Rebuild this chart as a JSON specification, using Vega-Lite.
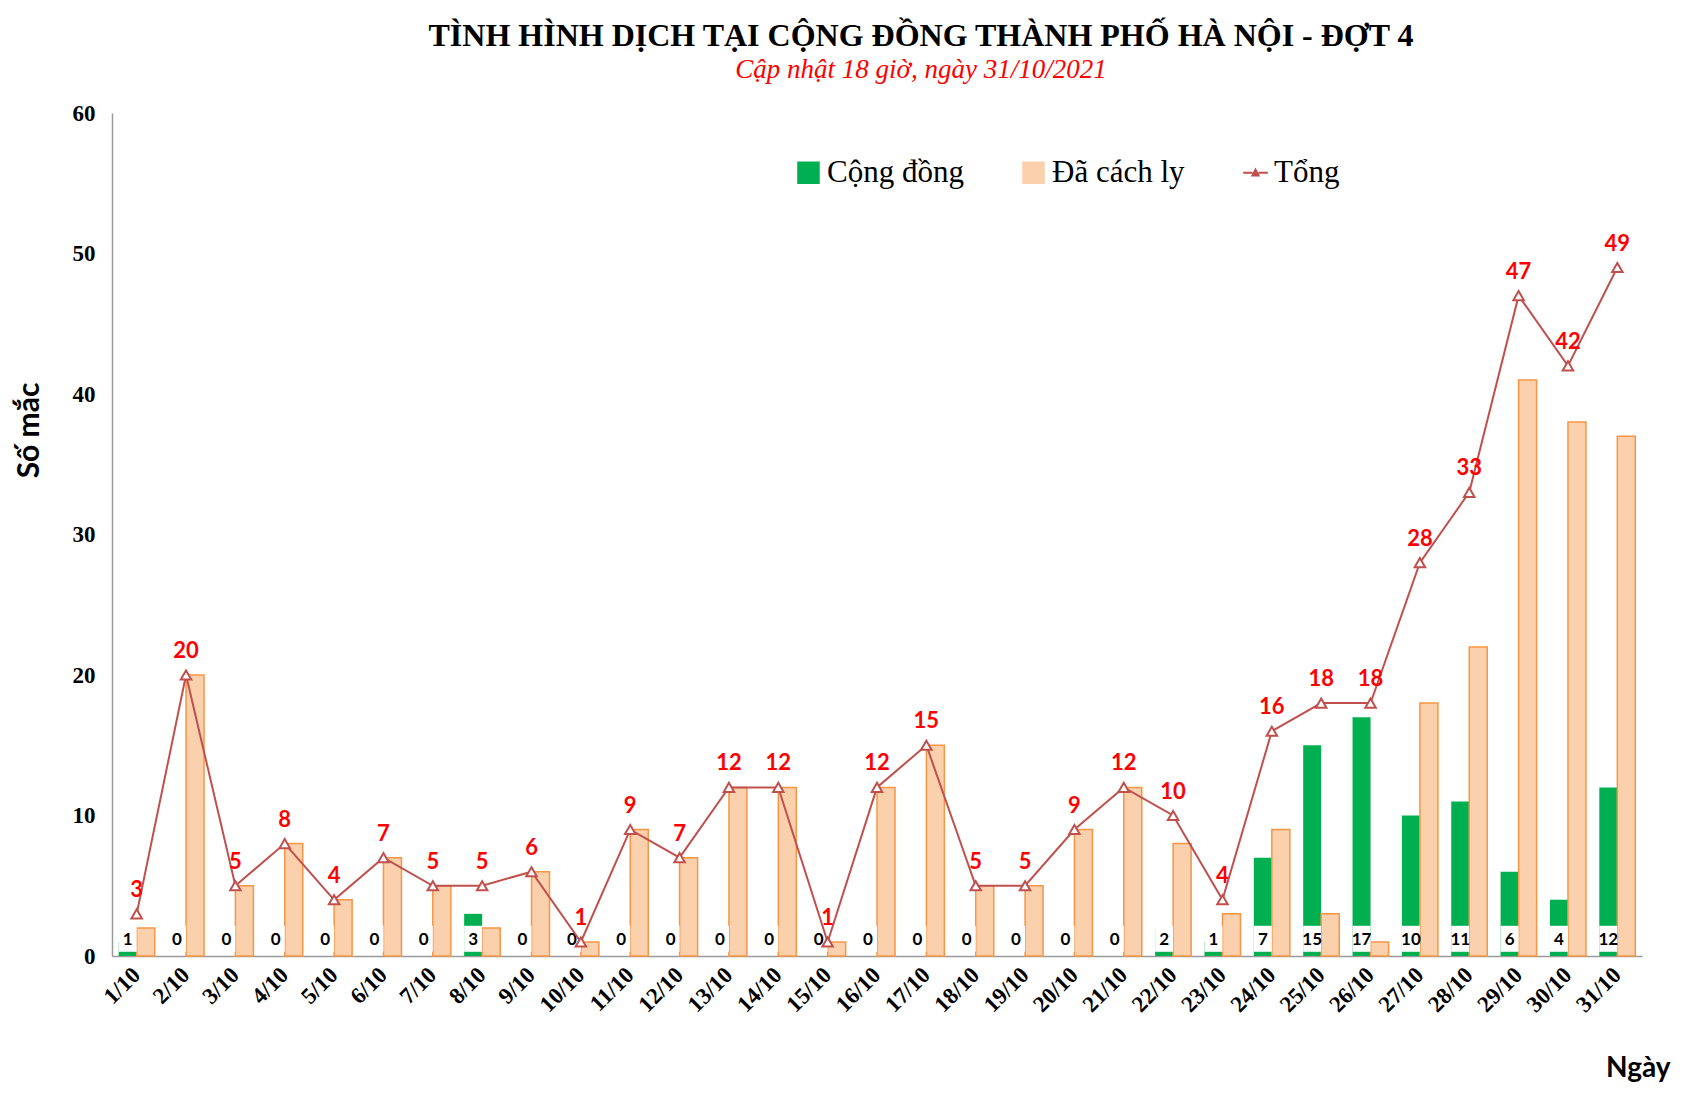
{
  "$schema": "https://vega.github.io/schema/vega-lite/v6.json",
  "autosize": {"type": "none"},
  "padding": {"left": 112, "top": 113, "right": 64, "bottom": 159},
  "width": 1530,
  "height": 843,
  "background": "white",
  "config": {"view": {"stroke": null}},
  "title": {
    "text": "TÌNH HÌNH DỊCH TẠI CỘNG ĐỒNG THÀNH PHỐ HÀ NỘI - ĐỢT 4",
    "subtitle": "Cập nhật 18 giờ, ngày 31/10/2021",
    "font": "Liberation Serif",
    "fontSize": 32,
    "fontWeight": "bold",
    "color": "black",
    "subtitleFont": "Liberation Serif",
    "subtitleFontSize": 27,
    "subtitleFontStyle": "italic",
    "subtitleColor": "#FF0000",
    "subtitlePadding": 4,
    "anchor": "middle",
    "frame": "group",
    "dx": 44,
    "offset": 18
  },
  "data": {
    "values": [
      {"day": "1/10", "cong_dong": 1, "da_cach_ly": 2, "tong": 3},
      {"day": "2/10", "cong_dong": 0, "da_cach_ly": 20, "tong": 20},
      {"day": "3/10", "cong_dong": 0, "da_cach_ly": 5, "tong": 5},
      {"day": "4/10", "cong_dong": 0, "da_cach_ly": 8, "tong": 8},
      {"day": "5/10", "cong_dong": 0, "da_cach_ly": 4, "tong": 4},
      {"day": "6/10", "cong_dong": 0, "da_cach_ly": 7, "tong": 7},
      {"day": "7/10", "cong_dong": 0, "da_cach_ly": 5, "tong": 5},
      {"day": "8/10", "cong_dong": 3, "da_cach_ly": 2, "tong": 5},
      {"day": "9/10", "cong_dong": 0, "da_cach_ly": 6, "tong": 6},
      {"day": "10/10", "cong_dong": 0, "da_cach_ly": 1, "tong": 1},
      {"day": "11/10", "cong_dong": 0, "da_cach_ly": 9, "tong": 9},
      {"day": "12/10", "cong_dong": 0, "da_cach_ly": 7, "tong": 7},
      {"day": "13/10", "cong_dong": 0, "da_cach_ly": 12, "tong": 12},
      {"day": "14/10", "cong_dong": 0, "da_cach_ly": 12, "tong": 12},
      {"day": "15/10", "cong_dong": 0, "da_cach_ly": 1, "tong": 1},
      {"day": "16/10", "cong_dong": 0, "da_cach_ly": 12, "tong": 12},
      {"day": "17/10", "cong_dong": 0, "da_cach_ly": 15, "tong": 15},
      {"day": "18/10", "cong_dong": 0, "da_cach_ly": 5, "tong": 5},
      {"day": "19/10", "cong_dong": 0, "da_cach_ly": 5, "tong": 5},
      {"day": "20/10", "cong_dong": 0, "da_cach_ly": 9, "tong": 9},
      {"day": "21/10", "cong_dong": 0, "da_cach_ly": 12, "tong": 12},
      {"day": "22/10", "cong_dong": 2, "da_cach_ly": 8, "tong": 10},
      {"day": "23/10", "cong_dong": 1, "da_cach_ly": 3, "tong": 4},
      {"day": "24/10", "cong_dong": 7, "da_cach_ly": 9, "tong": 16},
      {"day": "25/10", "cong_dong": 15, "da_cach_ly": 3, "tong": 18},
      {"day": "26/10", "cong_dong": 17, "da_cach_ly": 1, "tong": 18},
      {"day": "27/10", "cong_dong": 10, "da_cach_ly": 18, "tong": 28},
      {"day": "28/10", "cong_dong": 11, "da_cach_ly": 22, "tong": 33},
      {"day": "29/10", "cong_dong": 6, "da_cach_ly": 41, "tong": 47},
      {"day": "30/10", "cong_dong": 4, "da_cach_ly": 38, "tong": 42},
      {"day": "31/10", "cong_dong": 12, "da_cach_ly": 37, "tong": 49}
    ]
  },
  "encoding": {
    "x": {
      "field": "day",
      "type": "ordinal",
      "sort": null,
      "scale": {"paddingInner": 0.27, "paddingOuter": 0.135},
      "axis": {
        "title": "Ngày",
        "titleFont": "Lato",
        "titleFontWeight": "bold",
        "titleFontSize": 28,
        "titleColor": "black",
        "titleAnchor": "start",
        "titleAlign": "right",
        "titleBaseline": "middle",
        "titleX": 1558,
        "titleY": 112,
        "labelAngle": -45,
        "labelAlign": "right",
        "labelBaseline": "middle",
        "labelFont": "Liberation Serif",
        "labelFontWeight": "bold",
        "labelFontSize": 23,
        "labelColor": "black",
        "labelPadding": 15,
        "ticks": false,
        "domainColor": "#9a9a9a",
        "domainWidth": 1.5,
        "grid": false
      }
    }
  },
  "layer": [
    {
      "transform": [{"fold": ["cong_dong", "da_cach_ly"], "as": ["series", "value"]}],
      "mark": {"type": "bar"},
      "encoding": {
        "xOffset": {"field": "series", "type": "nominal", "scale": {"domain": ["cong_dong", "da_cach_ly"], "paddingInner": 0, "paddingOuter": 0}},
        "y": {
          "field": "value",
          "type": "quantitative",
          "scale": {"domain": [0, 60], "nice": false},
          "axis": {
            "title": "Số mắc",
            "titleFont": "Lato",
            "titleFontWeight": "bold",
            "titleFontSize": 30,
            "titleColor": "black",
            "titleAngle": 270,
            "titleAlign": "center",
            "titleBaseline": "middle",
            "titleX": -83,
            "titleY": 317,
            "values": [0, 10, 20, 30, 40, 50, 60],
            "labelFont": "Liberation Serif",
            "labelFontWeight": "bold",
            "labelFontSize": 23,
            "labelColor": "black",
            "labelPadding": 17,
            "ticks": false,
            "grid": false,
            "domainColor": "#9a9a9a",
            "domainWidth": 1.5
          }
        },
        "color": {
          "field": "series",
          "type": "nominal",
          "scale": {"domain": ["cong_dong", "da_cach_ly", "tong"], "range": ["#00B050", "#FBD0AC", "#C0504D"]},
          "legend": {
            "orient": "none",
            "legendX": 681,
            "legendY": 44,
            "direction": "horizontal",
            "columns": 3,
            "columnPadding": 54,
            "padding": 0,
            "title": null,
            "symbolSize": 420,
            "symbolStrokeWidth": 2,
            "labelFont": "Liberation Serif",
            "labelFontSize": 31,
            "labelColor": "black",
            "labelOffset": 3,
            "labelLimit": 400,
            "labelExpr": "datum.value === 'cong_dong' ? 'Cộng đồng' : datum.value === 'da_cach_ly' ? 'Đã cách ly' : 'Tổng'",
            "encode": {
              "symbols": {
                "update": {
                  "shape": {"signal": "datum.value === 'tong' ? 'M-1.2,0H-0.3M0.3,0H1.2M-0.3,0.27L0,-0.3L0.3,0.27Z' : 'square'"},
                  "fill": {"signal": "datum.value === 'cong_dong' ? '#00B050' : datum.value === 'da_cach_ly' ? '#FBD0AC' : 'white'"},
                  "stroke": {"signal": "datum.value === 'cong_dong' ? '#00B050' : datum.value === 'da_cach_ly' ? '#F79646' : '#C0504D'"},
                  "strokeWidth": {"value": 2},
                  "opacity": {"value": 1},
                  "fillOpacity": {"value": 1}
                }
              }
            }
          }
        },
        "stroke": {
          "condition": {"test": "datum.series === 'da_cach_ly'", "value": "#F79646"},
          "value": null
        },
        "strokeWidth": {"value": 1.5}
      }
    },
    {
      "transform": [
        {"fold": ["cong_dong", "da_cach_ly"], "as": ["series", "value"]},
        {"filter": "datum.series === 'cong_dong'"}
      ],
      "mark": {"type": "bar", "color": "white"},
      "encoding": {
        "xOffset": {"field": "series", "type": "nominal"},
        "y": {"datum": 0.3},
        "y2": {"datum": 2.15}
      }
    },
    {
      "transform": [
        {"fold": ["cong_dong", "da_cach_ly"], "as": ["series", "value"]},
        {"filter": "datum.series === 'cong_dong'"}
      ],
      "mark": {"type": "text", "font": "Lato", "fontWeight": "bold", "fontSize": 17, "color": "black", "baseline": "middle", "align": "center"},
      "encoding": {
        "xOffset": {"field": "series", "type": "nominal"},
        "y": {"datum": 1.12},
        "text": {"field": "value", "type": "quantitative"}
      }
    },
    {
      "mark": {"type": "line", "strokeWidth": 2},
      "encoding": {
        "y": {"field": "tong", "type": "quantitative"},
        "color": {
          "datum": "tong",
          "legend": {
            "orient": "none",
            "legendX": 681,
            "legendY": 44,
            "direction": "horizontal",
            "columns": 3,
            "columnPadding": 54,
            "padding": 0,
            "title": null,
            "symbolSize": 420,
            "symbolStrokeWidth": 2,
            "labelFont": "Liberation Serif",
            "labelFontSize": 31,
            "labelColor": "black",
            "labelOffset": 3,
            "labelLimit": 400,
            "labelExpr": "datum.value === 'cong_dong' ? 'Cộng đồng' : datum.value === 'da_cach_ly' ? 'Đã cách ly' : 'Tổng'",
            "encode": {
              "symbols": {
                "update": {
                  "shape": {"signal": "datum.value === 'tong' ? 'M-1.2,0H-0.3M0.3,0H1.2M-0.3,0.27L0,-0.3L0.3,0.27Z' : 'square'"},
                  "fill": {"signal": "datum.value === 'cong_dong' ? '#00B050' : datum.value === 'da_cach_ly' ? '#FBD0AC' : 'white'"},
                  "stroke": {"signal": "datum.value === 'cong_dong' ? '#00B050' : datum.value === 'da_cach_ly' ? '#F79646' : '#C0504D'"},
                  "strokeWidth": {"value": 2},
                  "opacity": {"value": 1},
                  "fillOpacity": {"value": 1}
                }
              }
            }
          }
        }
      }
    },
    {
      "mark": {"type": "point", "shape": "triangle-up", "filled": true, "fill": "white", "stroke": "#C0504D", "strokeWidth": 2, "size": 110, "opacity": 1},
      "encoding": {
        "y": {"field": "tong", "type": "quantitative"}
      }
    },
    {
      "mark": {"type": "text", "font": "Lato", "fontWeight": "bold", "fontSize": 22, "color": "#FF0000", "dy": -24, "baseline": "middle", "align": "center"},
      "encoding": {
        "y": {"field": "tong", "type": "quantitative"},
        "text": {"field": "tong", "type": "quantitative"}
      }
    }
  ]
}
